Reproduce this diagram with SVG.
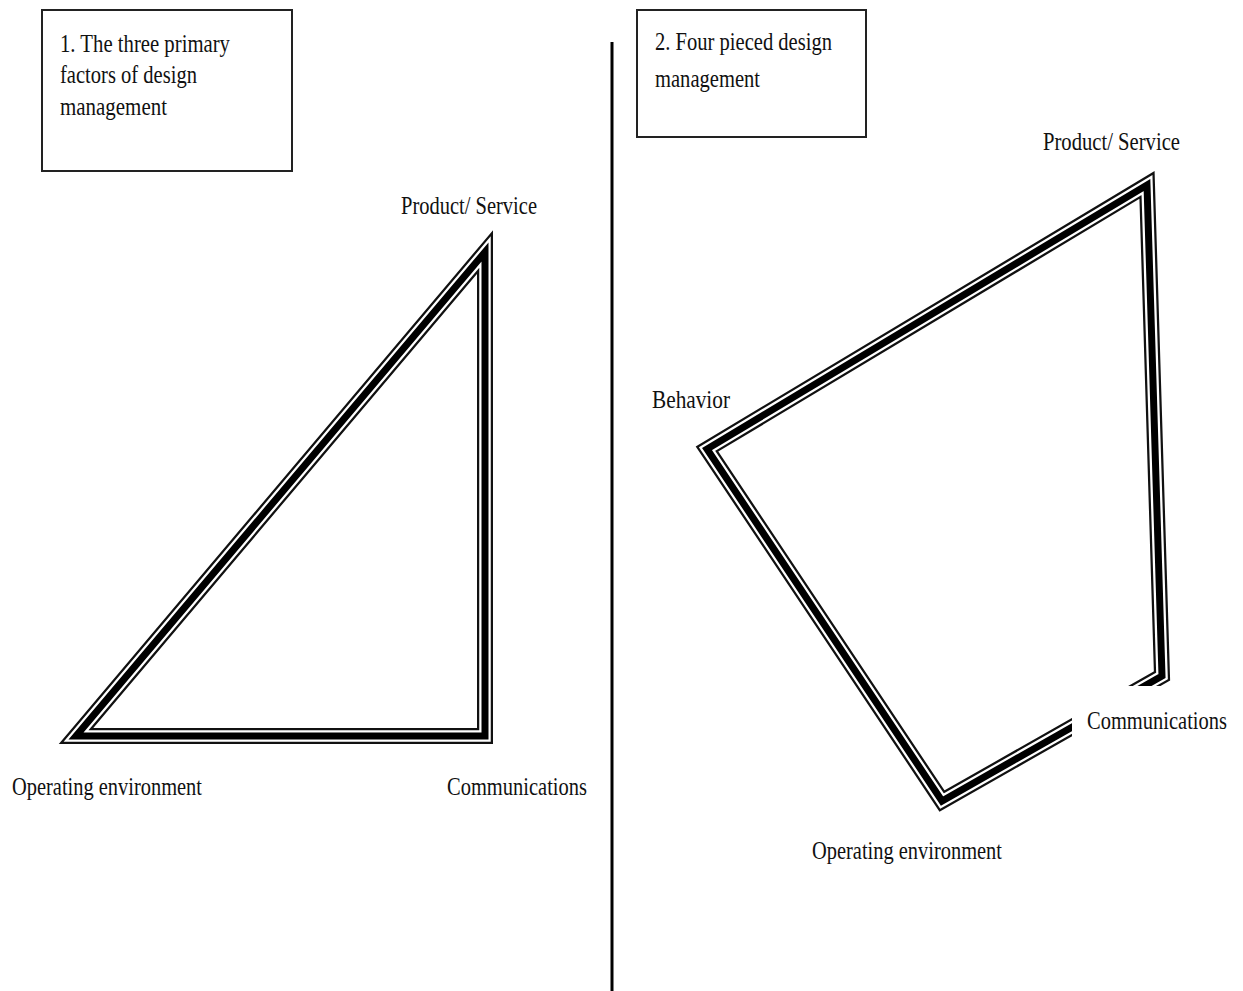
<svg xmlns="http://www.w3.org/2000/svg" xmlns:xlink="http://www.w3.org/1999/xlink" width="1243" height="991" viewBox="0 0 1243 991">
  <style>
    text { font-family: "Liberation Serif", "Times New Roman", serif; font-size: 25px; fill: #111; }
    .box { fill: #fff; stroke: #222; stroke-width: 2; }
    .frame { fill: none; stroke-linejoin: miter; stroke-miterlimit: 6; }
    .f1 { stroke: #111; stroke-width: 16; }
    .f2 { stroke: #fff; stroke-width: 11.5; }
    .f3 { stroke: #000; stroke-width: 7; }
  </style>
  <defs>
    <!-- frame centre lines; each is drawn three times to get the triple border -->
    <path id="tri" d="M485,252 L485,736 L76,736 Z"/>
    <path id="quad" d="M1147,185 L1162,676 L942,801 L707,449 Z"/>
    <!-- everything except the area behind the right-hand "Communications" label -->
    <clipPath id="labelGap">
      <path clip-rule="evenodd" d="M0,0 H1243 V991 H0 Z M1072,686 V744 H1236 V686 Z"/>
    </clipPath>
  </defs>
  <rect width="1243" height="991" fill="#fff"/>

  <!-- divider between the two models -->
  <line x1="612" y1="42" x2="612" y2="991" stroke="#000" stroke-width="3"/>

  <g id="title1">
    <rect class="box" x="42" y="10" width="250" height="161"/>
    <text x="60" y="52" textLength="170" lengthAdjust="spacingAndGlyphs">1. The three primary</text>
    <text x="60" y="83" textLength="137" lengthAdjust="spacingAndGlyphs">factors of design</text>
    <text x="60" y="115" textLength="107" lengthAdjust="spacingAndGlyphs">management</text>
  </g>

  <g id="title2">
    <rect class="box" x="637" y="10" width="229" height="127"/>
    <text x="655" y="50" textLength="177" lengthAdjust="spacingAndGlyphs">2. Four pieced design</text>
    <text x="655" y="87" textLength="105" lengthAdjust="spacingAndGlyphs">management</text>
  </g>

  <g id="connectors">
    <g id="triangle">
      <use xlink:href="#tri" class="frame f1"/>
      <use xlink:href="#tri" class="frame f2"/>
      <use xlink:href="#tri" class="frame f3"/>
    </g>
    <g id="quadrilateral" clip-path="url(#labelGap)">
      <use xlink:href="#quad" class="frame f1"/>
      <use xlink:href="#quad" class="frame f2"/>
      <use xlink:href="#quad" class="frame f3"/>
    </g>
  </g>

  <!-- corner labels, left model -->
  <g id="l-product">
    <text x="401" y="214" textLength="136" lengthAdjust="spacingAndGlyphs">Product/ Service</text>
  </g>
  <g id="l-operating">
    <text x="12" y="795" textLength="190" lengthAdjust="spacingAndGlyphs">Operating environment</text>
  </g>
  <g id="l-communications">
    <text x="447" y="795" textLength="140" lengthAdjust="spacingAndGlyphs">Communications</text>
  </g>

  <!-- corner labels, right model -->
  <g id="r-product">
    <text x="1043" y="150" textLength="137" lengthAdjust="spacingAndGlyphs">Product/ Service</text>
  </g>
  <g id="r-behavior">
    <text x="652" y="408" textLength="78" lengthAdjust="spacingAndGlyphs">Behavior</text>
  </g>
  <g id="r-communications">
    <text x="1087" y="729" textLength="140" lengthAdjust="spacingAndGlyphs">Communications</text>
  </g>
  <g id="r-operating">
    <text x="812" y="859" textLength="190" lengthAdjust="spacingAndGlyphs">Operating environment</text>
  </g>
</svg>
